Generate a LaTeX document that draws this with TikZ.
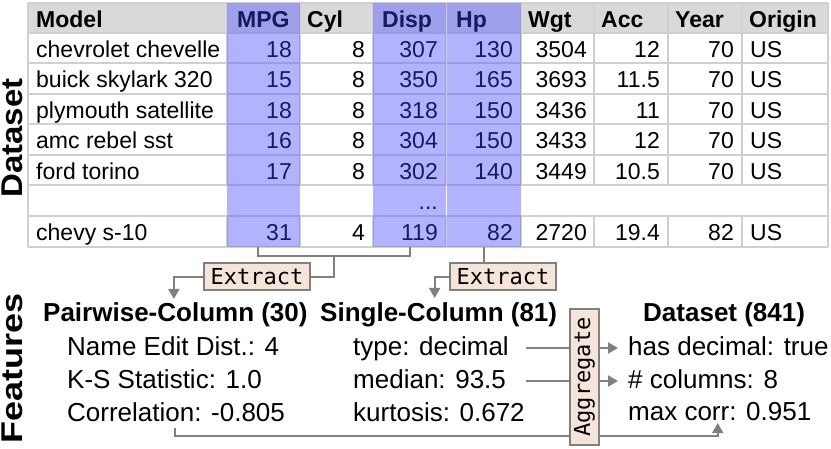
\documentclass[tikz,border=0pt]{standalone}
\usepackage{fontspec}
\setmainfont{Liberation Sans}
\newfontfamily\monof{DejaVu Sans Mono}
\usetikzlibrary{arrows.meta,calc}
\definecolor{gridc}{RGB}{208,208,208}
\definecolor{headc}{RGB}{217,217,217}
\definecolor{hlc}{RGB}{102,102,255}
\definecolor{navy}{RGB}{25,25,95}
\definecolor{conc}{RGB}{128,128,128}
\definecolor{peach}{RGB}{245,228,216}
\begin{document}
\begin{tikzpicture}[x=1pt,y=-1pt,
  tcellL/.style={inner sep=0pt,anchor=base west,font=\fontsize{23}{27}\selectfont},
  tcellR/.style={inner sep=0pt,anchor=base east,font=\fontsize{23}{27}\selectfont},
  thead/.style={inner sep=0pt,anchor=base west,font=\fontsize{23}{27}\selectfont\bfseries},
  hltext/.style={text=navy},
  ftext/.style={inner sep=0pt,anchor=base west,font=\fontsize{26}{30}\selectfont},
  fhead/.style={inner sep=0pt,anchor=base west,font=\fontsize{26}{30}\selectfont\bfseries},
  sidelbl/.style={inner sep=0pt,rotate=90,font=\fontsize{30}{34}\selectfont\bfseries},
  gridline/.style={draw=gridc,line width=1.5pt},
  conn/.style={draw=conc,line width=2pt},
  arrowconn/.style={conn,-{Triangle[length=10pt,width=11pt]}},
  opbox/.style={draw=conc,line width=2pt,fill=peach,inner sep=0pt,font=\monof\fontsize{22}{26}\selectfont},
]
\useasboundingbox (0,0) rectangle (831,448);

% table background and grid
\fill[headc] (28,3) rectangle (828,33);
\foreach \y in {3,33,63,94,124,155,185,216,247}
  \draw[gridline] (28,\y) -- (828,\y);
\foreach \x in {28,227,300,373,446,521,594,668,742,828}{
  \draw[gridline] (\x,3) -- (\x,185);
  \draw[gridline] (\x,216) -- (\x,247);
}
\draw[gridline] (28,185) -- (28,216) (828,185) -- (828,216);

% highlighted columns
\fill[hlc,opacity=0.5] (227,3) rectangle (300,247);
\fill[hlc,opacity=0.5] (373,3) rectangle (445.5,247);
\fill[hlc,opacity=0.5] (446.5,3) rectangle (521,247);

% header
\node[thead] (hModel) at (36,27) {Model};
\node[thead,hltext] (hMPG) at (237,27) {MPG};
\node[thead] (hCyl) at (307,27) {Cyl};
\node[thead,hltext] (hDisp) at (382,27) {Disp};
\node[thead,hltext] (hHp) at (456,27) {Hp};
\node[thead] (hWgt) at (528,27) {Wgt};
\node[thead] (hAcc) at (601,27) {Acc};
\node[thead] (hYear) at (675,27) {Year};
\node[thead] (hOrigin) at (749,27) {Origin};

% body rows
\foreach \r/\yb/\m/\mpg/\cyl/\disp/\hp/\wgt/\acc/\yr in {
  1/57/chevrolet chevelle/18/8/307/130/3504/12/70,
  2/87.5/buick skylark 320/15/8/350/165/3693/11.5/70,
  3/118/plymouth satellite/18/8/318/150/3436/11/70,
  4/148.5/amc rebel sst/16/8/304/150/3433/12/70,
  5/179/ford torino/17/8/302/140/3449/10.5/70,
  7/240.5/chevy s-10/31/4/119/82/2720/19.4/82}{
  \node[tcellL] (model\r) at (36,\yb) {\m};
  \node[tcellR,hltext] (mpg\r) at (292,\yb) {\mpg};
  \node[tcellR] (cyl\r) at (365,\yb) {\cyl};
  \node[tcellR,hltext] (disp\r) at (438,\yb) {\disp};
  \node[tcellR,hltext] (hp\r) at (513,\yb) {\hp};
  \node[tcellR] (wgt\r) at (587,\yb) {\wgt};
  \node[tcellR] (acc\r) at (660,\yb) {\acc};
  \node[tcellR] (year\r) at (734,\yb) {\yr};
  \node[tcellL] (origin\r) at (750,\yb) {US};
}
\node[tcellR,hltext] (dots) at (438,209.5) {...};

% side labels
\node[sidelbl] (lblData) at (12,138) {\scalebox{1.1}[1]{Dataset}};
\node[sidelbl] (lblFeat) at (12,368) {\scalebox{1.2}[1]{Features}};

% column anchors
\coordinate (mpgb) at (258,247);
\coordinate (dispb) at (410,247);
\coordinate (hpb) at (483.5,247);

% extract boxes
\node[opbox,minimum width=106pt,minimum height=27pt] (ex1) at (257,276.5) {Extract};
\node[opbox,minimum width=106pt,minimum height=27pt] (ex2) at (503,276.5) {Extract};

% features
\node[fhead] (pw) at (43,321) {Pairwise-Column (30)};
\node[ftext] (ned) at (67,355) {Name Edit Dist.: 4};
\node[ftext] (ks) at (67,388) {K-S Statistic: 1.0};
\node[ftext] (corr) at (67,421) {Correlation: -0.805};
\node[fhead] (sc) at (320,321) {Single-Column (81)};
\node[ftext] (type) at (353,355) {type: decimal};
\node[ftext] (median) at (353,388) {median: 93.5};
\node[ftext] (kurt) at (353,421) {kurtosis: 0.672};
\node[fhead] (ds) at (643,321) {Dataset (841)};
\node[ftext] (hasdec) at (628,355) {has decimal: true};
\node[ftext] (ncol) at (628,388) {\# columns: 8};
\node[ftext] (maxc) at (628,420) {max corr: 0.951};

% connectors
\draw[conn] (mpgb) -- ++(0,9) coordinate (brl) -| (dispb);
\draw[conn] ($(brl)!0.5!(brl -| dispb)$) |- (ex1.east);
\draw[arrowconn] (ex1.west) -| ([xshift=-1.5pt,yshift=3pt]pw.north);
\draw[conn] (hpb) -- (hpb |- ex2.north);
\draw[arrowconn] (ex2.west) -| ([xshift=-4pt,yshift=4pt]sc.north);

\draw[arrowconn] ($(type.base -| kurt.east)+(1,-7)$) -- ($(hasdec.base west)+(-10,-7)$);
\draw[arrowconn] ($(median.base -| kurt.east)+(1,-7)$) -- ($(ncol.base west)+(-10,-7)$);
\draw[arrowconn] ($(corr.base)+(-1.5,7)$) -- ($(corr.base)+(-1.5,15)$) -| ($(maxc.base)+(-2,3)$);

% aggregate box on top
\node[opbox,rotate=90,minimum width=136pt,minimum height=29pt] (agg) at (584.5,377) {Aggregate};
\end{tikzpicture}
\end{document}
